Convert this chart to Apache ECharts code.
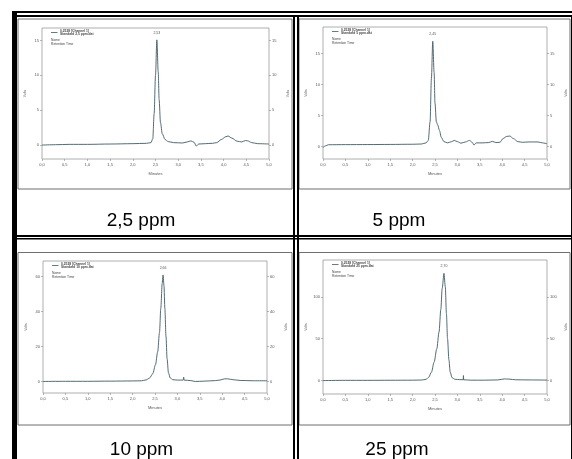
<!DOCTYPE html>
<html>
<head>
<meta charset="utf-8">
<script src="https://cdn.jsdelivr.net/npm/echarts@6/dist/echarts.min.js"></script>
<style>
  html, body { margin: 0; padding: 0; background: #fff; }
  #main { width: 572px; height: 459px; }
</style>
</head>
<body>
<div id="main"></div>
<script>
// chromatograms, [minutes, volts]
const trace2_5ppm = [
  [0, 0.0], [0.3, 0.05], [0.6, 0.1], [1.0, 0.1], [1.5, 0.15], [2.0, 0.2], [2.3, 0.25],
  [2.40, 0.35], [2.44, 0.9], [2.47, 4.5], [2.50, 10.0], [2.53, 15.1], [2.56, 10.5],
  [2.58, 6.5], [2.61, 3.2], [2.65, 1.6], [2.71, 0.8], [2.78, 0.5], [2.9, 0.35], [3.1, 0.3],
  [3.2, 0.45], [3.28, 0.6], [3.35, 0.4], [3.40, -0.15], [3.45, 0.15], [3.6, 0.2], [3.75, 0.25],
  [3.85, 0.35], [3.95, 0.8], [4.05, 1.2], [4.1, 1.3], [4.18, 1.0], [4.3, 0.55], [4.4, 0.45],
  [4.48, 0.65], [4.53, 0.6], [4.62, 0.35], [4.75, 0.2], [5.0, 0.15]
]
const trace5ppm = [
  [0, -0.15], [0.05, 0.1], [0.12, 0.3], [0.5, 0.32], [1.0, 0.33], [1.5, 0.35], [2.0, 0.38],
  [2.2, 0.42], [2.3, 0.6], [2.35, 1.0], [2.39, 4], [2.42, 11], [2.45, 17.0], [2.48, 12],
  [2.50, 7], [2.53, 4.0], [2.56, 3.5], [2.60, 2.6], [2.64, 1.5], [2.70, 0.8], [2.78, 0.6],
  [2.87, 0.8], [2.93, 1.0], [3.0, 0.8], [3.08, 0.55], [3.18, 0.75], [3.27, 1.0], [3.33, 0.7],
  [3.37, 0.25], [3.42, 0.6], [3.55, 0.6], [3.7, 0.65], [3.78, 0.85], [3.86, 0.65], [3.95, 0.7],
  [4.02, 1.3], [4.1, 1.65], [4.17, 1.7], [4.25, 1.3], [4.35, 0.8], [4.45, 0.7], [4.6, 0.75],
  [4.8, 0.75], [4.9, 0.6], [5.0, 0.45]
]
const trace10ppm = [
  [0, 0], [0.5, 0.1], [1.0, 0.1], [1.5, 0.2], [2.0, 0.3], [2.2, 0.4], [2.3, 0.9], [2.38, 2],
  [2.45, 4.5], [2.51, 9.5], [2.56, 17], [2.60, 28], [2.63, 42], [2.66, 56], [2.68, 61],
  [2.70, 55], [2.72, 42], [2.745, 26], [2.77, 13], [2.80, 5], [2.84, 2], [2.9, 1.0], [3.0, 0.8],
  [3.13, 0.8], [3.14, 2.5], [3.15, 0.8], [3.3, 0.5], [3.4, 0.0], [3.6, 0.2], [3.85, 0.5],
  [3.95, 0.8], [4.05, 1.5], [4.12, 1.5], [4.25, 1.0], [4.4, 0.6], [4.7, 0.4], [5.0, 0.4]
]
const trace25ppm = [
  [0, 0], [0.5, 0.3], [1.0, 0.3], [1.5, 0.4], [2.0, 0.5], [2.2, 0.7], [2.3, 1.5], [2.36, 4],
  [2.42, 10], [2.48, 22], [2.54, 38], [2.59, 58], [2.63, 85], [2.66, 110], [2.70, 128],
  [2.73, 112], [2.755, 80], [2.78, 50], [2.81, 25], [2.84, 10], [2.88, 3.5], [2.95, 1.5],
  [3.05, 1.2], [3.13, 1.0], [3.135, 6], [3.14, 1.0], [3.3, 0.5], [3.6, 0.5], [3.9, 0.8],
  [4.05, 2.0], [4.15, 1.8], [4.3, 1.0], [4.6, 0.8], [5.0, 0.6]
]
const traces = [trace2_5ppm, trace5ppm, trace10ppm, trace25ppm]

const captions = ['2,5 ppm', '5 ppm', '10 ppm', '25 ppm']
const dataFiles = ['Standard 2,5 ppm.dat', 'Standard 5 ppm.dat', 'Standard 10 ppm.dat', 'Standard 25 ppm.dat']
const channelName = '0,2528 [Channel 1]'
const peakTimes = [2.53, 2.45, 2.68, 2.70]
const peakLabels = ['2,53', '2,45', '2,66', '2,70']
const xTicks = [0, 0.5, 1, 1.5, 2, 2.5, 3, 3.5, 4, 4.5, 5]
const yTicks = [[0, 5, 10, 15], [0, 5, 10, 15], [0, 20, 40, 60], [0, 50, 100]]
const yRanges = [[-2, 16.8], [-2, 19.3], [-6.6, 69], [-16, 144]]

// where each scanned panel sits in the table
const panels = [
  { grid: { left: 42, top: 28, width: 227, height: 131 }, img: [18, 19, 274, 170], cap: [141, 221] },
  { grid: { left: 323, top: 27, width: 224, height: 132 }, img: [299, 19, 271, 170], cap: [399, 221] },
  { grid: { left: 43, top: 261, width: 224, height: 132 }, img: [18, 252.5, 274, 172.5], cap: [141.5, 449.5] },
  { grid: { left: 323, top: 260, width: 224, height: 134 }, img: [299, 252.5, 271, 172.5], cap: [397, 449.5] }
]

const lineColor = '#3f5b63'
const textColor = '#555'
const tinyFont = 'Liberation Sans'
const comma = (v) => v.toFixed(1).replace('.', ',')

const grids = []
const xAxes = []
const yAxes = []
const series = []
const graphics = []

panels.forEach((p, i) => {
  grids.push({ ...p.grid, show: true, borderColor: '#9a9a9a', borderWidth: 0.8, backgroundColor: 'transparent' })
  xAxes.push({
    type: 'value', gridIndex: i, min: 0, max: 5, position: 'bottom',
    name: 'Minutes', nameLocation: 'middle', nameGap: 13,
    nameTextStyle: { fontSize: 4, color: textColor, fontFamily: tinyFont },
    axisLine: { show: false, onZero: false }, splitLine: { show: false },
    axisTick: { show: true, length: 2, lineStyle: { color: '#888', width: 0.6 }, customValues: xTicks },
    axisLabel: { fontSize: 4, color: textColor, margin: 4, fontFamily: tinyFont, customValues: xTicks, formatter: comma }
  })
  ;['left', 'right'].forEach((pos) => {
    yAxes.push({
      type: 'value', gridIndex: i, position: pos, min: yRanges[i][0], max: yRanges[i][1],
      name: 'Volts', nameLocation: 'middle', nameGap: pos === 'left' ? 15 : 17, nameRotate: 90,
      nameTextStyle: { fontSize: 3.5, color: textColor, fontFamily: tinyFont },
      axisLine: { show: false, onZero: false }, splitLine: { show: false },
      axisTick: { show: true, length: 2, lineStyle: { color: '#888', width: 0.6 }, customValues: yTicks[i] },
      axisLabel: { fontSize: 4, color: textColor, margin: 3, fontFamily: tinyFont, customValues: yTicks[i] }
    })
  })
  const peak = traces[i].find((d) => d[0] === peakTimes[i])
  series.push({
    type: 'line', name: captions[i], xAxisIndex: i, yAxisIndex: i * 2,
    data: traces[i], showSymbol: false, smooth: 0.3, smoothMonotone: 'x',
    lineStyle: { color: lineColor, width: 0.9 },
    markPoint: {
      symbol: 'circle', symbolSize: 0, silent: true,
      data: [{ coord: peak, value: peakLabels[i] }],
      label: { show: true, position: 'top', distance: 5, fontSize: 3.5, color: textColor, fontFamily: tinyFont, formatter: (d) => d.value }
    }
  })

  // scanned picture edge
  const [ix, iy, iw, ih] = p.img
  graphics.push({ type: 'rect', shape: { x: ix, y: iy, width: iw, height: ih }, style: { fill: 'none', stroke: '#6f6f6f', lineWidth: 1 } })

  // chromatogram legend block
  const gx = p.grid.left, gy = p.grid.top
  graphics.push({ type: 'line', shape: { x1: gx + 9, y1: gy + 4.5, x2: gx + 15.5, y2: gy + 4.5 }, style: { stroke: lineColor, lineWidth: 0.8 } })
  const legendLines = [[channelName, 18, 2.8, 'bold'], [dataFiles[i], 18, 6.4, 'bold'], ['Name', 9, 12.3, 'normal'], ['Retention Time', 9, 16.3, 'normal']]
  legendLines.forEach(([t, dx, dy, w]) => {
    graphics.push({
      type: 'text', x: gx + dx, y: gy + dy,
      style: { text: t, fontSize: 3.3, fontWeight: w, fill: '#444', fontFamily: tinyFont, verticalAlign: 'middle' }
    })
  })

  // caption in the table cell
  graphics.push({
    type: 'text', x: p.cap[0], y: p.cap[1],
    style: { text: captions[i], fontSize: 19, fill: '#000', fontFamily: 'Liberation Sans, Arial', align: 'center', verticalAlign: 'middle' }
  })
})

// table borders
const bars = [
  [12, 11, 560, 2], [16, 15, 556, 2], [12, 11, 5, 448],
  [293, 15, 2, 444], [297, 15, 2, 444],
  [16, 235, 556, 2], [16, 238, 556, 1.5], [571, 15, 1, 444]
]
bars.forEach(([x, y, w, h]) => {
  graphics.push({ type: 'rect', z: 10, shape: { x, y, width: w, height: h }, style: { fill: '#000' } })
})

const myChart = echarts.init(document.getElementById('main'), null, { renderer: 'canvas' })
myChart.setOption({
  animation: false,
  backgroundColor: '#fff',
  grid: grids,
  xAxis: xAxes,
  yAxis: yAxes,
  series,
  graphic: graphics
})
</script>
</body>
</html>
